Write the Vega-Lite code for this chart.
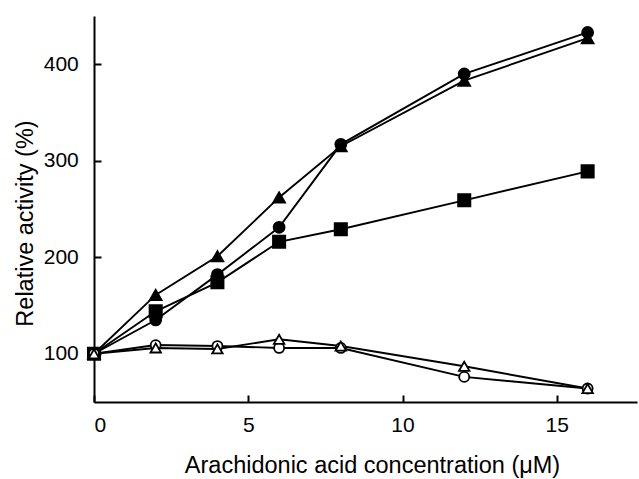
{
  "$schema": "https://vega.github.io/schema/vega-lite/v6.json",
  "autosize": "none",
  "width": 543,
  "height": 386,
  "padding": {"left": 94, "top": 16, "right": 2, "bottom": 77},
  "background": "white",
  "config": {
    "font": "Liberation Sans",
    "view": {"stroke": null},
    "axis": {"grid": false, "domainColor": "black", "domainWidth": 2, "tickColor": "black", "tickWidth": 2, "labelColor": "black", "titleColor": "black", "labelFont": "Liberation Sans", "titleFont": "Liberation Sans", "labelFontSize": 21, "titleFontSize": 23.5, "titleFontWeight": "normal"}
  },
  "data": {
    "values": [
      {"series": "A", "x": 0, "y": 100}, {"series": "A", "x": 2, "y": 135}, {"series": "A", "x": 4, "y": 182}, {"series": "A", "x": 6, "y": 231}, {"series": "A", "x": 8, "y": 317}, {"series": "A", "x": 12, "y": 390}, {"series": "A", "x": 16, "y": 433},
      {"series": "B", "x": 0, "y": 100}, {"series": "B", "x": 2, "y": 161}, {"series": "B", "x": 4, "y": 201}, {"series": "B", "x": 6, "y": 262}, {"series": "B", "x": 8, "y": 315}, {"series": "B", "x": 12, "y": 383}, {"series": "B", "x": 16, "y": 427},
      {"series": "C", "x": 0, "y": 100}, {"series": "C", "x": 2, "y": 144}, {"series": "C", "x": 4, "y": 174}, {"series": "C", "x": 6, "y": 216}, {"series": "C", "x": 8, "y": 229}, {"series": "C", "x": 12, "y": 259}, {"series": "C", "x": 16, "y": 289},
      {"series": "D", "x": 0, "y": 100}, {"series": "D", "x": 2, "y": 109}, {"series": "D", "x": 4, "y": 108}, {"series": "D", "x": 6, "y": 106}, {"series": "D", "x": 8, "y": 106}, {"series": "D", "x": 12, "y": 76}, {"series": "D", "x": 16, "y": 64},
      {"series": "E", "x": 0, "y": 100}, {"series": "E", "x": 2, "y": 106}, {"series": "E", "x": 4, "y": 105}, {"series": "E", "x": 6, "y": 115}, {"series": "E", "x": 8, "y": 108}, {"series": "E", "x": 12, "y": 87}, {"series": "E", "x": 16, "y": 64}
    ]
  },
  "encoding": {
    "x": {"field": "x", "type": "quantitative", "scale": {"domain": [0, 17.6], "nice": false, "zero": false},
      "axis": {"values": [0, 5, 10, 15], "tickSize": -7, "labelPadding": 19, "title": "Arachidonic acid concentration (μM)", "titlePadding": 18, "titleX": 278}},
    "y": {"field": "y", "type": "quantitative", "scale": {"domain": [50, 450], "nice": false, "zero": false},
      "axis": {"values": [100, 200, 300, 400], "tickSize": -7, "labelPadding": 22.7, "title": "Relative activity (%)", "titlePadding": 6, "titleY": 207}}
  },
  "layer": [
    {"mark": {"type": "line", "color": "black", "strokeWidth": 1.9},
     "encoding": {"detail": {"field": "series"}}},
    {"mark": {"type": "point", "strokeWidth": 1.8, "stroke": "black", "opacity": 1},
     "encoding": {
       "shape": {"field": "series", "type": "nominal", "legend": null, "scale": {"domain": ["A", "B", "C", "D", "E"], "range": ["circle", "triangle-up", "square", "circle", "triangle-up"]}},
       "fill": {"field": "series", "type": "nominal", "legend": null, "scale": {"domain": ["A", "B", "C", "D", "E"], "range": ["black", "black", "black", "white", "white"]}},
       "size": {"field": "series", "type": "nominal", "legend": null, "scale": {"type": "ordinal", "domain": ["A", "B", "C", "D", "E"], "range": [120, 140, 150, 100, 110]}}
     }}
  ]
}
